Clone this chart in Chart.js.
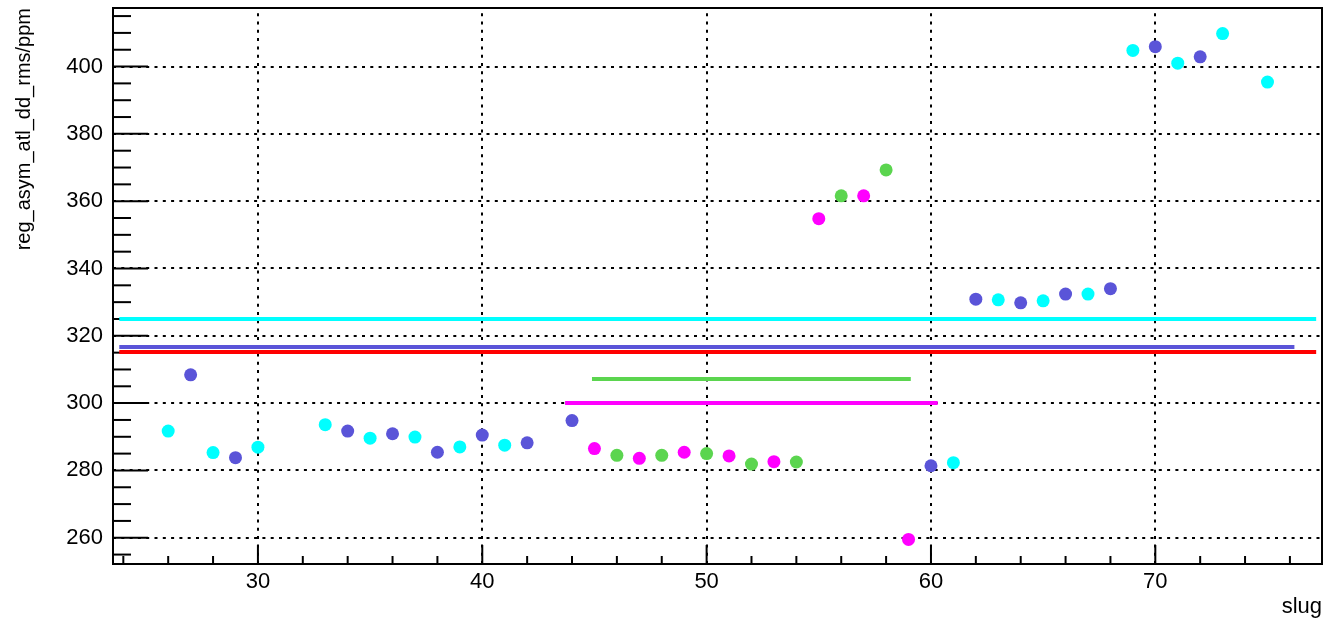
<!DOCTYPE html>
<html>
<head>
<meta charset="utf-8">
<script src="https://cdn.jsdelivr.net/npm/chart.js@4.4.0/dist/chart.umd.min.js"></script>
<style>
  html, body { margin: 0; padding: 0; background: #fff; }
  #wrap { width: 1324px; height: 622px; }
</style>
</head>
<body>
<div id="wrap"><canvas id="chart" width="1324" height="622"></canvas></div>
<script>
// valeurs (slug -> rms en ppm)
const cyanSlugs = [26, 28, 30, 33, 35, 37, 39, 41, 61, 63, 65, 67, 69, 71, 73, 75];
const cyanRms = [291.7, 285.3, 286.9, 293.6, 289.6, 289.9, 287.0, 287.5, 282.3, 330.7, 330.4, 332.4, 404.8, 401.0, 409.8, 395.4];

const blueSlugs = [27, 29, 34, 36, 38, 40, 42, 44, 60, 62, 64, 66, 68, 70, 72];
const blueRms = [308.4, 283.8, 291.7, 290.9, 285.4, 290.5, 288.2, 294.8, 281.4, 330.9, 329.8, 332.4, 334.0, 405.9, 402.9];

const magentaSlugs = [45, 47, 49, 51, 53, 55, 57, 59];
const magentaRms = [286.5, 283.6, 285.4, 284.3, 282.6, 354.8, 361.6, 259.5];

const greenSlugs = [46, 48, 50, 52, 54, 56, 58];
const greenRms = [284.5, 284.5, 285.0, 281.9, 282.5, 361.6, 369.3];

// moyennes (segments horizontaux)
const avgColors = ['#00ffff', '#5a54d8', '#ff0000', '#5bd54f', '#ff00ff'];
const avgValues = [325.0, 316.7, 315.2, 307.2, 300.0];
const avgFrom = [23.82, 23.82, 23.82, 44.89, 43.69];
const avgTo = [77.17, 76.2, 77.17, 59.1, 60.3];

// axes
const xTicks = [30, 40, 50, 60, 70];
const xMinor = [24, 26, 28, 32, 34, 36, 38, 42, 44, 46, 48, 52, 54, 56, 58, 62, 64, 66, 68, 72, 74, 76];
const yTicks = [260, 280, 300, 320, 340, 360, 380, 400];
const yMinor = [255, 265, 270, 275, 285, 290, 295, 305, 310, 315, 325, 330, 335, 345, 350, 355, 365, 370, 375, 385, 390, 395, 405, 410, 415];

Chart.defaults.font.family = "'Liberation Sans', Arial, sans-serif";
Chart.defaults.color = '#000';

const toPts = (xs, ys) => xs.map((x, i) => ({ x: x, y: ys[i] }));

const pointSet = (xs, ys, color) => ({
    type: 'scatter',
    data: toPts(xs, ys),
    backgroundColor: color,
    borderWidth: 0,
    pointRadius: 6.5,
    pointHoverRadius: 6.5,
    order: 1
});

const avgSets = avgValues.map((v, i) => ({
    type: 'line',
    data: [{ x: avgFrom[i], y: v }, { x: avgTo[i], y: v }],
    borderColor: avgColors[i],
    borderWidth: 4,
    borderCapStyle: 'butt',
    pointRadius: 0,
    fill: false,
    order: 2
}));

// cadre, grille pointillée et graduations intérieures (style ROOT)
const rootFrame = {
    id: 'rootFrame',
    beforeDatasetsDraw(chart) {
        const { ctx, chartArea: a, scales: { x, y } } = chart;
        ctx.save();
        ctx.strokeStyle = '#000';

        // grille
        ctx.lineWidth = 2;
        ctx.setLineDash([3, 5.3]);
        xTicks.forEach(v => {
            const px = Math.round(x.getPixelForValue(v));
            ctx.beginPath(); ctx.moveTo(px, a.bottom); ctx.lineTo(px, a.top); ctx.stroke();
        });
        yTicks.forEach(v => {
            const py = Math.round(y.getPixelForValue(v));
            ctx.beginPath(); ctx.moveTo(a.left, py); ctx.lineTo(a.right, py); ctx.stroke();
        });
        ctx.setLineDash([]);

        // graduations
        const tick = (x1, y1, x2, y2) => { ctx.beginPath(); ctx.moveTo(x1, y1); ctx.lineTo(x2, y2); ctx.stroke(); };
        xTicks.forEach(v => { const px = x.getPixelForValue(v); tick(px, a.bottom, px, a.bottom - 19); });
        xMinor.forEach(v => { const px = x.getPixelForValue(v); tick(px, a.bottom, px, a.bottom - 8); });
        yTicks.forEach(v => { const py = y.getPixelForValue(v); tick(a.left, py, a.left + 35, py); });
        yMinor.forEach(v => { const py = y.getPixelForValue(v); tick(a.left, py, a.left + 18, py); });

        // cadre
        ctx.strokeRect(a.left, a.top, a.right - a.left, a.bottom - a.top);
        ctx.restore();
    }
};

new Chart(document.getElementById('chart'), {
    data: {
        datasets: [
            pointSet(cyanSlugs, cyanRms, '#00ffff'),
            pointSet(blueSlugs, blueRms, '#5a54d8'),
            pointSet(magentaSlugs, magentaRms, '#ff00ff'),
            pointSet(greenSlugs, greenRms, '#5bd54f'),
            ...avgSets
        ]
    },
    options: {
        responsive: false,
        animation: false,
        layout: { autoPadding: false, padding: { top: 8, right: 2, left: 0, bottom: 0 } },
        plugins: { legend: { display: false }, tooltip: { enabled: false } },
        scales: {
            x: {
                type: 'linear',
                min: 23.54,
                max: 77.43,
                afterBuildTicks: s => { s.ticks = xTicks.map(v => ({ value: v })); },
                afterFit: s => { s.height = 58; s.paddingLeft = 0; s.paddingRight = 0; },
                grid: { display: false, drawTicks: false },
                border: { display: false },
                ticks: { font: { size: 22 }, padding: 5, maxRotation: 0, color: '#000' },
                title: { display: true, text: 'slug', align: 'end', font: { size: 22 }, color: '#000', padding: { top: 0, bottom: 2 } }
            },
            y: {
                type: 'linear',
                min: 252.2,
                max: 417.4,
                afterBuildTicks: s => { s.ticks = yTicks.map(v => ({ value: v })); },
                afterFit: s => { s.width = 113; s.paddingTop = 0; s.paddingBottom = 0; },
                grid: { display: false, drawTicks: false },
                border: { display: false },
                ticks: { font: { size: 22 }, padding: 10, color: '#000' },
                title: { display: true, text: 'reg_asym_atl_dd_rms/ppm', align: 'end', font: { size: 20 }, color: '#000', padding: { top: 12, bottom: 0 } }
            }
        }
    },
    plugins: [rootFrame]
});
</script>
</body>
</html>
